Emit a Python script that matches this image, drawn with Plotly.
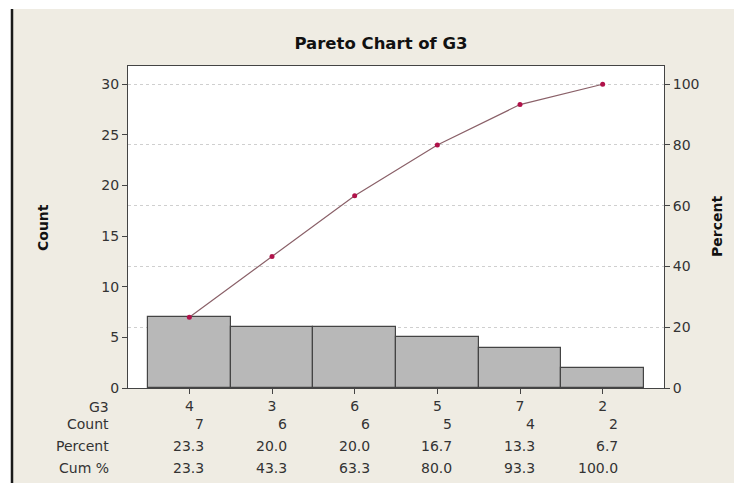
import plotly.graph_objects as go

categories = ["4", "3", "6", "5", "7", "2"]
counts = [7, 6, 6, 5, 4, 2]
percents = [23.3, 20.0, 20.0, 16.7, 13.3, 6.7]
cum_percents = [23.3, 43.3, 63.3, 80.0, 93.3, 100.0]
count_ticks = [0, 5, 10, 15, 20, 25, 30]
percent_ticks = [0, 20, 40, 60, 80, 100]

W, H = 734, 483
L, R, T, B = 128, 70, 66, 95
PW, PH = W - L - R, H - T - B
FONT = "DejaVu Sans"
TXT = "#333333"

fig = go.Figure()
fig.add_trace(go.Bar(
    x=categories, y=counts, width=1.0,
    marker=dict(color="#b8b8b8", line=dict(color="#444444", width=1.2)),
    yaxis="y", showlegend=False,
))
fig.add_trace(go.Scatter(
    x=categories, y=cum_percents, mode="lines+markers",
    line=dict(color="#8a6068", width=1.2),
    marker=dict(color="#b0124a", size=5),
    yaxis="y2", showlegend=False,
))

annotations = []
row_y = {"G3": 407, "Count": 424, "Percent": 446, "Cum %": 468}
for lab, py in row_y.items():
    annotations.append(dict(
        x=0, xref="paper", y=0, yref="paper", text=lab, showarrow=False,
        xanchor="right", yanchor="middle", xshift=-17, yshift=-(py - (H - B)),
        font=dict(family=FONT, size=14, color=TXT),
    ))
rows = [
    ("Count", [str(c) for c in counts]),
    ("Percent", [f"{p:.1f}" for p in percents]),
    ("Cum %", [f"{p:.1f}" for p in cum_percents]),
]
for lab, vals in rows:
    py = row_y[lab]
    for i, v in enumerate(vals):
        annotations.append(dict(
            x=i, xref="x", y=0, yref="paper", text=v, showarrow=False,
            xanchor="right", yanchor="middle", xshift=17, yshift=-(py - (H - B)),
            font=dict(family=FONT, size=14, color=TXT),
        ))
annotations.append(dict(
    x=(43 - L) / PW, xref="paper", y=0.5, yref="paper", text="<b>Count</b>",
    textangle=-90, showarrow=False, xanchor="center", yanchor="middle",
    font=dict(family=FONT, size=14, color="#111"),
))
annotations.append(dict(
    x=(717 - L) / PW, xref="paper", y=0.5, yref="paper", text="<b>Percent</b>",
    textangle=-90, showarrow=False, xanchor="center", yanchor="middle",
    font=dict(family=FONT, size=14, color="#111"),
))

shapes = [
    dict(type="rect", xref="paper", yref="paper",
         x0=-L / PW, x1=(11 - L) / PW, y0=-B / PH, y1=(H - B) / PH,
         fillcolor="white", line=dict(width=0), layer="below"),
    dict(type="rect", xref="paper", yref="paper",
         x0=-L / PW, x1=(W - L) / PW, y0=(H - B - 9) / PH, y1=(H - B) / PH,
         fillcolor="white", line=dict(width=0), layer="below"),
    dict(type="line", xref="paper", yref="paper",
         x0=(12 - L) / PW, x1=(12 - L) / PW, y0=-B / PH, y1=(H - B - 9) / PH,
         line=dict(color="#1a1a1a", width=2.5)),
]

fig.update_layout(
    width=W, height=H,
    margin=dict(l=L, r=R, t=T, b=B, pad=0),
    paper_bgcolor="#efece3",
    plot_bgcolor="white",
    title=dict(text="<b>Pareto Chart of G3</b>", x=381 / W, xanchor="center",
               y=1 - 43 / H, yanchor="middle",
               font=dict(family=FONT, size=16.5, color="#111")),
    bargap=0,
    xaxis=dict(type="category", categoryorder="array", categoryarray=categories,
               range=[-0.742, 5.742], showline=True, linecolor="#444", linewidth=1,
               mirror=True, ticks="outside", ticklen=5, tickcolor="#444",
               tickfont=dict(family=FONT, size=14, color=TXT), showgrid=False,
               zeroline=False),
    yaxis=dict(range=[0, 31.8], tickvals=count_ticks, showline=True, linecolor="#444",
               linewidth=1, mirror=True, ticks="outside", ticklen=5, tickcolor="#444",
               tickfont=dict(family=FONT, size=14, color=TXT), showgrid=False,
               zeroline=False),
    yaxis2=dict(range=[0, 106], tickvals=percent_ticks, overlaying="y", side="right",
                showline=False, ticks="outside", ticklen=5, tickcolor="#444",
                tickfont=dict(family=FONT, size=14, color=TXT), showgrid=True,
                gridcolor="#cfcfcf", griddash="dot", gridwidth=1, zeroline=False),
    annotations=annotations,
    shapes=shapes,
)

fig.write_html(
    "out.html",
    config={"displayModeBar": False},
    post_script="document.body.style.margin='0';document.body.style.overflow='hidden';",
)
